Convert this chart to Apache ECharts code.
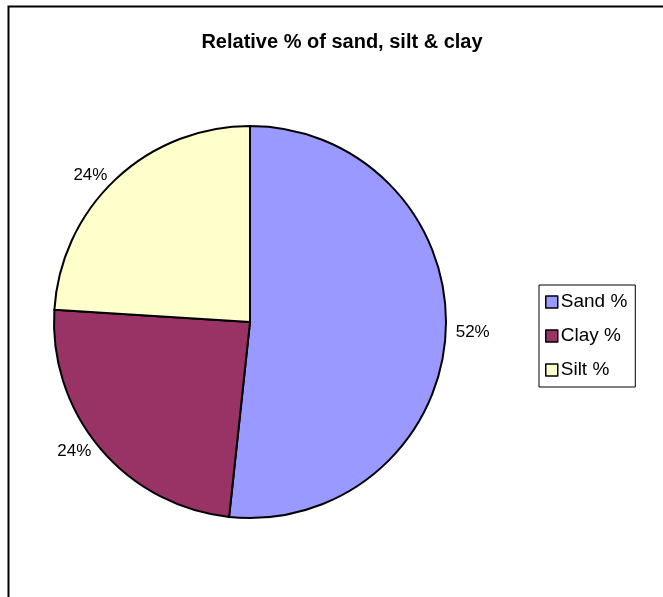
<!DOCTYPE html>
<html>
<head>
<meta charset="utf-8">
<script src="https://cdn.jsdelivr.net/npm/echarts@6/dist/echarts.min.js"></script>
<style>
    html, body { margin: 0; padding: 0; background: #fff; }
    #chart { width: 663px; height: 597px; }
</style>
</head>
<body>
<div id="chart"></div>
<script>
    // soil texture shares
    const categories = ['Sand %', 'Clay %', 'Silt %'];
    const values = [51.7, 24.3, 24.0];
    const colors = ['#9999FF', '#993366', '#FFFFCC'];

    let chart = echarts.init(document.getElementById('chart'));
    chart.setOption({
        animation: false,
        textStyle: {fontFamily: 'Liberation Sans, Arial, sans-serif'},
        graphic: [
            {
                // outer chart frame, runs off the right and bottom
                type: 'rect',
                shape: {x: 8.5, y: 6.5, width: 700, height: 700},
                style: {fill: null, stroke: '#000', lineWidth: 2}
            }
        ],
        title: {
            text: 'Relative % of sand, silt & clay',
            left: 337,
            top: 27,
            textAlign: 'center',
            textStyle: {fontSize: 20, fontWeight: 'bold', color: '#000'}
        },
        legend: {
            orient: 'vertical',
            left: 539,
            top: 285,
            padding: [7, 8, 7, 6],
            itemGap: 14,
            itemWidth: 12,
            itemHeight: 12,
            borderColor: '#000',
            borderWidth: 1,
            icon: 'rect',
            itemStyle: {borderColor: '#000', borderWidth: 1.5},
            textStyle: {fontSize: 19, lineHeight: 20, color: '#000', padding: [0, 0, 0, -2]},
            data: categories
        },
        series: [
            {
                type: 'pie',
                center: [250, 322],
                radius: 196,
                startAngle: 90,
                clockwise: true,
                avoidLabelOverlap: false,
                color: colors,
                itemStyle: {borderColor: '#000', borderWidth: 2},
                label: {
                    show: true,
                    position: 'outside',
                    fontSize: 17,
                    color: '#000',
                    formatter: p => Math.round(p.percent) + '%'
                },
                labelLine: {show: false, length: 5, length2: 0},
                emphasis: {disabled: true},
                data: categories.map((c, i) => ({name: c, value: values[i]}))
            }
        ]
    });
</script>
</body>
</html>
